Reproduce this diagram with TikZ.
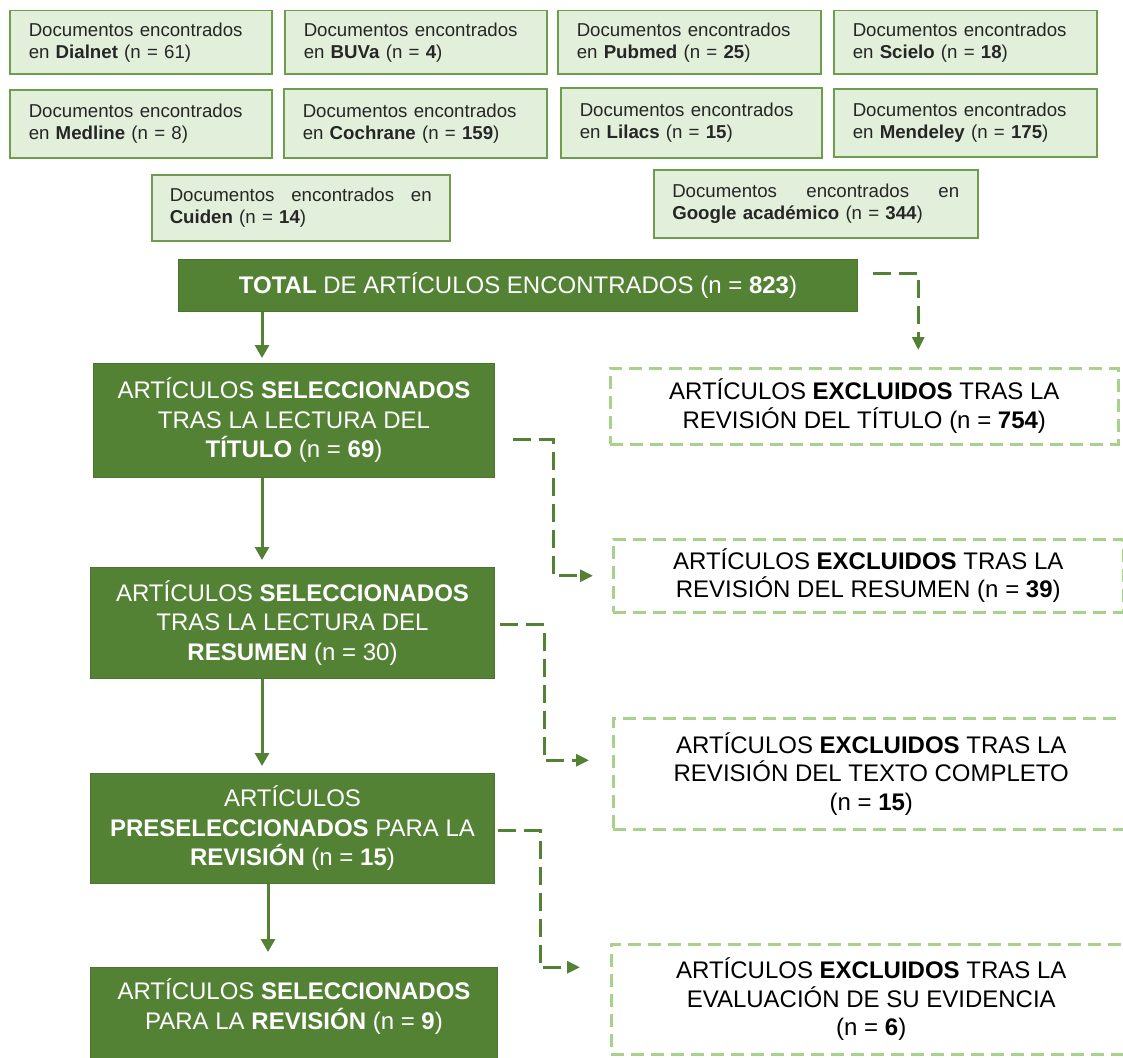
\documentclass[tikz,border=0pt]{standalone}
\usepackage{fontspec}
\setmainfont{Liberation Sans}
\usetikzlibrary{arrows.meta,calc}
\definecolor{dkgreen}{HTML}{548235}
\definecolor{dkborder}{HTML}{4A752E}
\definecolor{ltfill}{HTML}{E2EFDA}
\definecolor{ltborder}{HTML}{6E9D4D}
\definecolor{dashborder}{HTML}{A9D18E}
\definecolor{txtdark}{HTML}{262626}
\begin{document}
\begin{tikzpicture}[x=1pt,y=-1pt,
  docbox/.style={draw=ltborder, fill=ltfill, line width=1.5pt, anchor=north west,
    align=left, inner xsep=19pt, inner ysep=0pt, text=txtdark,
    font=\fontsize{18.67}{22}\selectfont},
  selbox/.style={draw=dkborder, fill=dkgreen, line width=1pt, anchor=north west,
    align=center, inner sep=0pt, text=white, font=\fontsize{24}{29.5}\selectfont},
  exclbox/.style={draw=dashborder, line width=2.5pt, dash pattern=on 13pt off 7pt,
    anchor=north west, align=center, inner sep=0pt, text=black,
    font=\fontsize{24}{28.5}\selectfont},
  conn/.style={draw=dkgreen, line width=3pt, -{Triangle[width=14pt,length=13pt]}},
  dconn/.style={draw=dkgreen, line width=3pt, dash pattern=on 18pt off 8pt,
    -{Triangle[width=12pt,length=13pt]}}
]
\useasboundingbox (0,0) rectangle (1123,1057);
\clip (0,0) rectangle (1123,1057);
\fill[white] (0,0) rectangle (1123,1057);

% source boxes
\node[docbox, text width=224pt, minimum height=63pt] (dialnet) at (9,10)
  {Documentos encontrados\\en \textbf{Dialnet} (n = 61)};
\node[docbox, text width=224pt, minimum height=63pt] (buva) at (284,10)
  {Documentos encontrados\\en \textbf{BUVa} (n = \textbf{4})};
\node[docbox, text width=225pt, minimum height=63pt] (pubmed) at (557,10)
  {Documentos encontrados\\en \textbf{Pubmed} (n = \textbf{25})};
\node[docbox, text width=225pt, minimum height=63pt] (scielo) at (833,10)
  {Documentos encontrados\\en \textbf{Scielo} (n = \textbf{18})};
\node[docbox, text width=224pt, minimum height=68pt] (medline) at (9,89)
  {Documentos encontrados\\en \textbf{Medline} (n = 8)};
\node[docbox, text width=225pt, minimum height=69pt] (cochrane) at (283,88)
  {Documentos encontrados\\en \textbf{Cochrane} (n = \textbf{159})};
\node[docbox, text width=223pt, minimum height=70pt] (lilacs) at (560,87)
  {Documentos encontrados\\en \textbf{Lilacs} (n = \textbf{15})};
\node[docbox, text width=225pt, minimum height=68pt] (mendeley) at (833,88)
  {Documentos encontrados\\en \textbf{Mendeley} (n = \textbf{175})};
\node[docbox, inner xsep=18pt, text width=262pt, minimum height=66pt] (cuiden) at (151,174)
  {\makebox[262pt][l]{Documentos\hfill encontrados\hfill en}\\\textbf{Cuiden} (n = \textbf{14})};
\node[docbox, inner xsep=18.5pt, text width=287pt, minimum height=68pt] (google) at (653,169)
  {\makebox[287pt][l]{Documentos\hfill encontrados\hfill en}\\\textbf{Google académico} (n = \textbf{344})};

% main flow
\node[selbox, minimum width=679pt, minimum height=52pt] (total) at (178,259)
  {\textbf{TOTAL} DE ARTÍCULOS ENCONTRADOS (n = \textbf{823})};
\node[selbox, minimum width=401pt, minimum height=114pt] (sel1) at (93,363)
  {ARTÍCULOS \textbf{SELECCIONADOS}\\TRAS LA LECTURA DEL\\\textbf{TÍTULO} (n = \textbf{69})};
\node[selbox, minimum width=404pt, minimum height=111pt] (sel2) at (90,567)
  {ARTÍCULOS \textbf{SELECCIONADOS}\\TRAS LA LECTURA DEL\\\textbf{RESUMEN} (n = 30)};
\node[selbox, minimum width=404pt, minimum height=110pt] (presel) at (90,773)
  {ARTÍCULOS\\\textbf{PRESELECCIONADOS} PARA LA\\\textbf{REVISIÓN} (n = \textbf{15})};
\node[selbox, minimum width=407pt, minimum height=112pt] (final) at (90,967)
  {ARTÍCULOS \textbf{SELECCIONADOS}\\PARA LA \textbf{REVISIÓN} (n = \textbf{9})\\\strut};

% excluded boxes
\node[exclbox, minimum width=508pt, minimum height=76pt] (excl1) at (609,367)
  {ARTÍCULOS \textbf{EXCLUIDOS} TRAS LA\\REVISIÓN DEL TÍTULO (n = \textbf{754})};
\node[exclbox, minimum width=510pt, minimum height=73pt] (excl2) at (612,538)
  {ARTÍCULOS \textbf{EXCLUIDOS} TRAS LA\\REVISIÓN DEL RESUMEN (n = \textbf{39})};
\node[exclbox, minimum width=516pt, minimum height=111pt] (excl3) at (612,717)
  {ARTÍCULOS \textbf{EXCLUIDOS} TRAS LA\\REVISIÓN DEL TEXTO COMPLETO\\(n = \textbf{15})};
\node[exclbox, minimum width=520pt, minimum height=110pt] (excl4) at (610,943)
  {ARTÍCULOS \textbf{EXCLUIDOS} TRAS LA\\EVALUACIÓN DE SU EVIDENCIA\\(n = \textbf{6})};

% solid connectors
\draw[conn, shorten >=5pt] ($(total.south west)+(84,0)$) coordinate (a1) -- (a1 |- sel1.north);
\draw[conn, shorten >=7pt] ($(sel1.south west)+(169,0)$) coordinate (a2) -- (a2 |- sel2.north);
\draw[conn, shorten >=7pt] ($(sel2.south west)+(172,0)$) coordinate (a3) -- (a3 |- presel.north);
\draw[conn, shorten >=15pt] ($(presel.south west)+(178,0)$) coordinate (a4) -- (a4 |- final.north);

% dashed connectors
\draw[dconn] ($(total.east)+(15,-12)$) -| ($(excl1.north)+(54,-17)$);
\draw[dconn] ($(sel1.east)+(18,19)$) -| ($(excl2.west)+(-59,0)$) -- ($(excl2.west)+(-19,0)$);
\draw[dconn] ($(sel2.east)+(5,1.5)$) -| ($(excl3.west)+(-68,-13.5)$) -- ($(excl3.west)+(-23,-13.5)$);
\draw[dconn] ($(presel.east)+(3,2)$) -| ($(excl4.west)+(-70,-32)$) -- ($(excl4.west)+(-30,-32)$);
\end{tikzpicture}
\end{document}
